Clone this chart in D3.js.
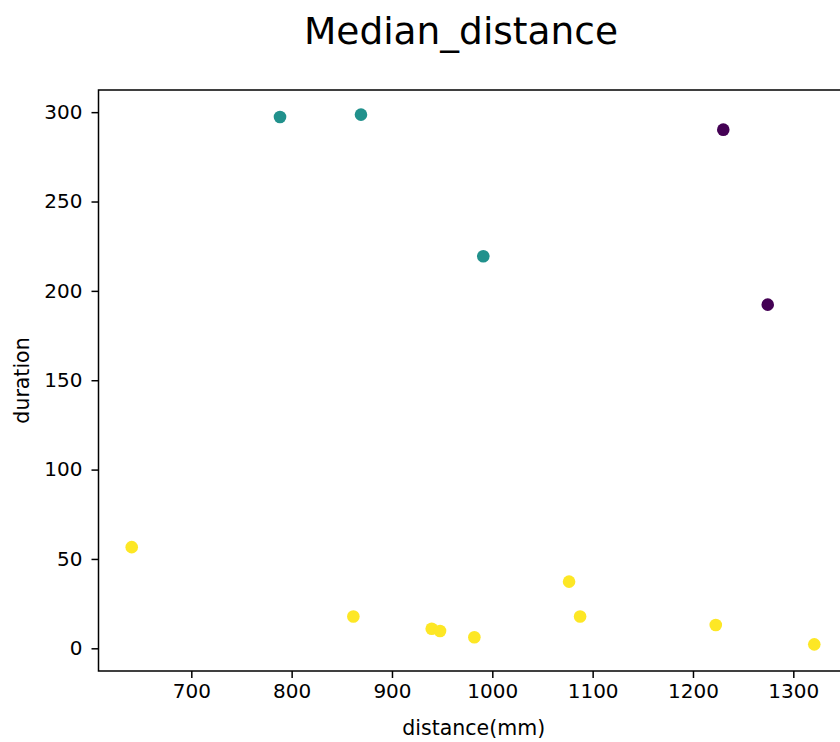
<!DOCTYPE html>
<html>
<head>
<meta charset="utf-8">
<script src="https://cdn.jsdelivr.net/npm/d3@7"></script>
<style>
  html, body { margin: 0; padding: 0; background: #fff; overflow: hidden; }
  svg { display: block; font-family: "DejaVu Sans", sans-serif; }
</style>
</head>
<body>
<svg id="chart"></svg>
<script>
// Data
const distance = [788.4, 869.1, 991.0, 1230.2, 1274.5, 640.6, 861.5, 939.6, 947.9, 982.1, 1076.5, 1087.5, 1222.7, 1320.9];
const duration = [297.3, 298.6, 219.4, 290.2, 192.3, 56.6, 17.8, 10.9, 9.7, 6.2, 37.3, 17.8, 13.0, 2.2];
const cluster = [1, 1, 1, 0, 0, 2, 2, 2, 2, 2, 2, 2, 2, 2];
const clusterColors = ["#440154", "#21918c", "#fde725"];
const xTicks = [700, 800, 900, 1000, 1100, 1200, 1300];
const yTicks = [0, 50, 100, 150, 200, 250, 300];

const data = distance.map((d, i) => ({ x: d, y: duration[i], c: cluster[i] }));

// Figure is wider than the window, right side gets cut off
const width = 922;
const height = 742;
const plotLeft = 98.5, plotRight = 849, plotTop = 90, plotBottom = 671;

const svg = d3.select("#chart").attr("width", width).attr("height", height);

const xScale = d3.scaleLinear().domain([607.5, 1355.5]).range([plotLeft, plotRight]);
const yScale = d3.scaleLinear().domain([-12.7, 312.4]).range([plotBottom, plotTop]);

// Points
svg.append("g")
  .selectAll("circle")
  .data(data)
  .enter()
  .append("circle")
  .attr("cx", (d) => xScale(d.x))
  .attr("cy", (d) => yScale(d.y))
  .attr("r", 6.3)
  .attr("fill", (d) => clusterColors[d.c]);

// Axes
const xAxis = d3.axisBottom(xScale).tickValues(xTicks).tickFormat(d3.format("d"))
  .tickSize(7).tickPadding(6).tickSizeOuter(0);
const yAxis = d3.axisLeft(yScale).tickValues(yTicks).tickFormat(d3.format("d"))
  .tickSize(7).tickPadding(9).tickSizeOuter(0);

const xAxisGroup = svg.append("g").attr("transform", `translate(0, ${plotBottom})`).call(xAxis);
const yAxisGroup = svg.append("g").attr("transform", `translate(${plotLeft}, 0)`).call(yAxis);

[xAxisGroup, yAxisGroup].forEach((g) => {
  g.select(".domain").remove();
  g.selectAll(".tick line").attr("stroke", "#000").attr("stroke-width", 1.5);
  g.selectAll(".tick text")
    .attr("fill", "#000")
    .style("font-size", "20px")
    .style("font-family", "DejaVu Sans");
});

// Spines (all four, right one falls outside the window)
svg.append("rect")
  .attr("x", plotLeft)
  .attr("y", plotTop)
  .attr("width", plotRight - plotLeft)
  .attr("height", plotBottom - plotTop)
  .attr("fill", "none")
  .attr("stroke", "#000")
  .attr("stroke-width", 1.5);

// Labels
svg.append("text")
  .attr("x", (plotLeft + plotRight) / 2)
  .attr("y", 735)
  .attr("text-anchor", "middle")
  .style("font-size", "20.5px")
  .text("distance(mm)");

svg.append("text")
  .attr("transform", `translate(29, ${(plotTop + plotBottom) / 2}) rotate(-90)`)
  .attr("text-anchor", "middle")
  .style("font-size", "20.5px")
  .text("duration");

svg.append("text")
  .attr("x", 461)
  .attr("y", 44)
  .attr("text-anchor", "middle")
  .style("font-size", "37.5px")
  .text("Median_distance");
</script>
</body>
</html>
